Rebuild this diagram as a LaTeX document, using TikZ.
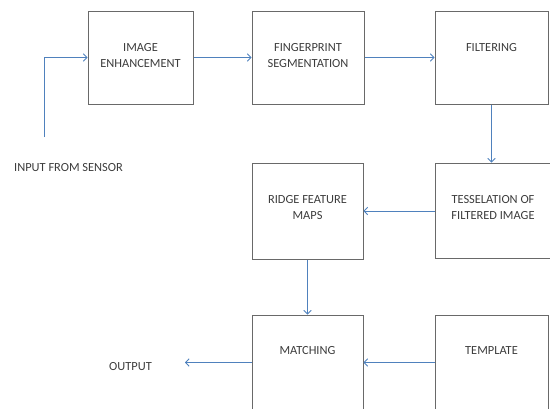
\documentclass[tikz,border=0pt]{standalone}
\usepackage{fontspec}
\setmainfont{Carlito}
\usetikzlibrary{arrows.meta}
\definecolor{linkblue}{RGB}{79,129,189}
\definecolor{boxgray}{RGB}{105,105,105}
\definecolor{txtgray}{RGB}{60,60,60}

\begin{document}
\begin{tikzpicture}[x=1pt, y=-1pt,
		blk/.style={draw=boxgray, line width=1pt, minimum width=#1, inner sep=0pt},
		blk/.default=112pt,
		lbl/.style={anchor=north, align=center, inner sep=0pt, text=txtgray, font=\fontsize{12.4}{16}\selectfont},
		flow/.style={draw=linkblue, line width=0.9pt, -{Straight Barb[length=3.5pt, width=7.5pt]}}]
		\useasboundingbox (0,0) rectangle (550,408);
		\clip (0,0) rectangle (550,408);

		% blocks
		\node[blk=105pt, minimum height=93pt] (enh) at (140.5,57.5) {};
		\node[blk=112pt, minimum height=93pt] (seg) at (308,57.5) {};
		\node[blk=113pt, minimum height=93pt] (filt) at (491.5,57.5) {};
		\node[blk=116pt, minimum height=95pt] (tess) at (493,210.5) {};
		\node[blk=111pt, minimum height=96pt] (ridge) at (307.5,211) {};
		\node[blk=111pt, minimum height=95pt] (match) at (307.5,362.5) {};
		\node[blk=113pt, minimum height=95pt] (tmpl) at (491.5,362.5) {};

		% block texts
		\node[lbl] (enhtxt) at ([yshift=-33pt]enh.north) {IMAGE\\ENHANCEMENT};
		\node[lbl] (segtxt) at ([yshift=-33pt]seg.north) {FINGERPRINT\\SEGMENTATION};
		\node[lbl] (filttxt) at ([yshift=-33pt]filt.north) {FILTERING};
		\node[lbl] (tesstxt) at ([yshift=-33pt]tess.north) {TESSELATION OF\\FILTERED IMAGE};
		\node[lbl] (ridgetxt) at ([yshift=-33pt]ridge.north) {RIDGE FEATURE\\MAPS};
		\node[lbl] (matchtxt) at ([yshift=-32pt]match.north) {MATCHING};
		\node[lbl] (tmpltxt) at ([yshift=-32pt]tmpl.north) {TEMPLATE};

		% input and output
		\node[lbl, anchor=center] (input) at (68.5,168) {INPUT FROM SENSOR};
		\node[lbl, anchor=center] (output) at (130.5,367) {OUTPUT};
		\coordinate (in) at (44,137);
		\coordinate (out) at (185,362.5);

		\draw[flow] (in) |- (enh.west);
		\draw[flow] (enh) -- (seg);
		\draw[flow] (seg) -- (filt);
		\draw[flow] (filt) -- (tess.north -| filt);
		\draw[flow] (tess.west |- ridge) -- (ridge);
		\draw[flow] (ridge) -- (match);
		\draw[flow] (tmpl) -- (match);
		\draw[flow] (match) -- (out);
	\end{tikzpicture}
\end{document}
